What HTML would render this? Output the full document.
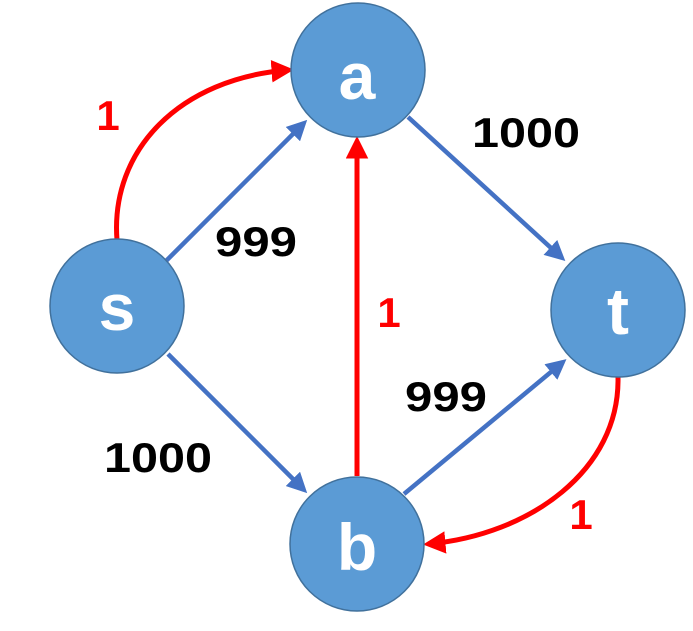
<!DOCTYPE html>
<html><head><style>
html,body{margin:0;padding:0;background:#fff;}
svg{display:block}
text{font-family:"Liberation Sans",sans-serif;font-weight:bold;}
</style></head><body>
<svg width="693" height="631" viewBox="0 0 693 631" xmlns="http://www.w3.org/2000/svg">
<defs>
<marker id="ab" markerWidth="4.5" markerHeight="4.5" refX="3.5" refY="2.25" orient="auto" markerUnits="strokeWidth">
<path d="M0,0 L4.5,2.25 L0,4.5 Z" fill="#4472C4"/></marker>
<marker id="ar" markerWidth="4.5" markerHeight="4.5" refX="3.5" refY="2.25" orient="auto" markerUnits="strokeWidth">
<path d="M0,0 L4.5,2.25 L0,4.5 Z" fill="#FF0000"/></marker>
</defs>
<g stroke="#4472C4" stroke-width="4.5" fill="none">
<line x1="165" y1="262" x2="304" y2="123" marker-end="url(#ab)"/>
<line x1="408" y1="117" x2="562" y2="258" marker-end="url(#ab)"/>
<line x1="168" y1="354" x2="304" y2="490" marker-end="url(#ab)"/>
<line x1="404" y1="494" x2="563" y2="362" marker-end="url(#ab)"/>
</g>
<g stroke="#FF0000" stroke-width="5" fill="none">
<line x1="357" y1="476" x2="357" y2="141" marker-end="url(#ar)"/>
<path d="M117,240 C110,150 180,78 289,70" marker-end="url(#ar)"/>
<path d="M618,377 C620,470 530,535 428,544" marker-end="url(#ar)"/>
</g>
<g fill="#5B9BD5" stroke="#41719C" stroke-width="1.5">
<circle cx="358" cy="70" r="67"/>
<circle cx="117" cy="306" r="67"/>
<circle cx="618" cy="310" r="67"/>
<circle cx="357" cy="544" r="67"/>
</g>
<g fill="#fff" font-size="66" text-anchor="middle">
<text x="357" y="99">a</text>
<text x="117" y="330">s</text>
<text x="618" y="334">t</text>
<text x="357" y="570">b</text>
</g>
<g font-size="42" fill="#000" text-anchor="middle">
<text x="526" y="147" textLength="108" lengthAdjust="spacingAndGlyphs">1000</text>
<text x="256" y="256" textLength="82" lengthAdjust="spacingAndGlyphs">999</text>
<text x="446" y="411" textLength="82" lengthAdjust="spacingAndGlyphs">999</text>
<text x="158" y="472" textLength="108" lengthAdjust="spacingAndGlyphs">1000</text>
</g>
<g font-size="42" fill="#FF0000" text-anchor="middle">
<text x="108" y="130">1</text>
<text x="389" y="327">1</text>
<text x="581" y="529">1</text>
</g>
</svg>
</body></html>
